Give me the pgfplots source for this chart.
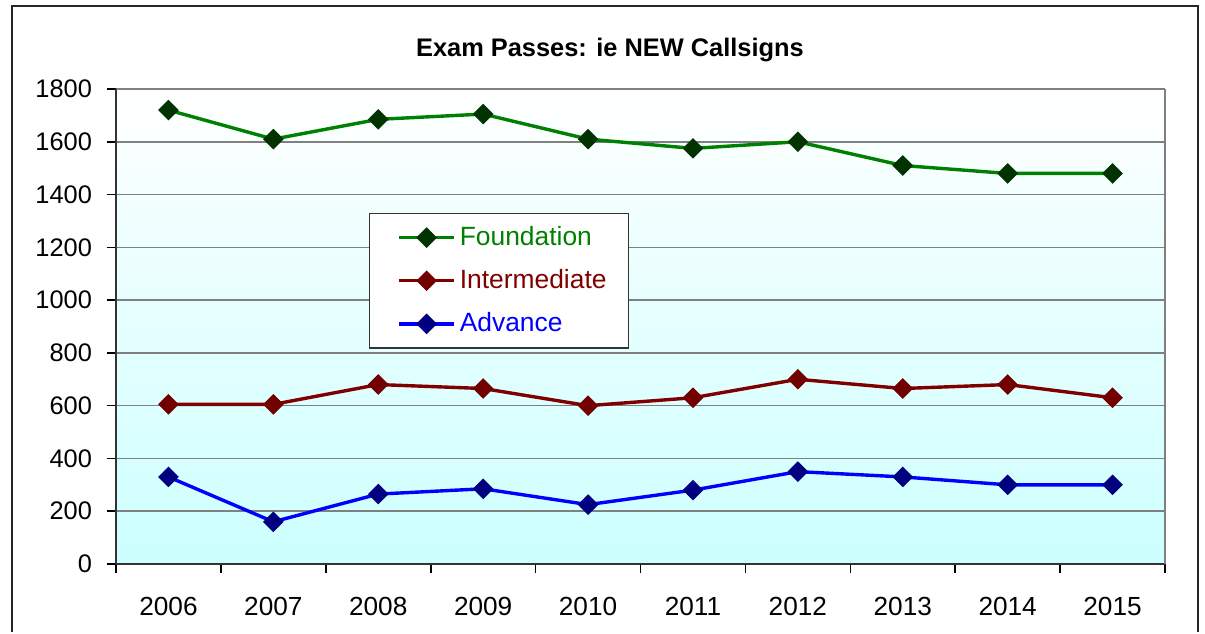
\documentclass[border=0pt]{standalone}
\usepackage{pgfplots}
\pgfplotsset{compat=1.18}
\usepackage{fontspec}
\setmainfont{Liberation Sans}
\definecolor{fgline}{RGB}{0,128,0}
\definecolor{fgmark}{RGB}{0,51,0}
\definecolor{imline}{RGB}{128,0,0}
\definecolor{immark}{RGB}{115,0,0}
\definecolor{adline}{RGB}{0,0,255}
\definecolor{admark}{RGB}{0,0,128}
\definecolor{bgcyan}{RGB}{204,255,255}
\definecolor{gridgray}{RGB}{128,128,128}
\pgfplotstableread{
x Foundation Intermediate Advance
0 1720 605 330
1 1610 605 160
2 1685 680 265
3 1705 665 285
4 1610 600 225
5 1575 630 280
6 1600 700 350
7 1510 665 330
8 1480 680 300
9 1480 630 300
}\examdata
\begin{document}
\begin{tikzpicture}
\begin{axis}[
  scale only axis, width=524.5pt, height=237.5pt,
  xmin=-0.5, xmax=9.5, ymin=0, ymax=1800,
  axis background/.style={shade, top color=white, bottom color=bgcyan},
  axis lines*=left,
  axis line style={line width=0.9pt, black!80},
  x axis line style={-}, y axis line style={-},
  tick align=outside,
  xtick={0,...,9}, xticklabels={2006,2007,2008,2009,2010,2011,2012,2013,2014,2015},
  major x tick style={draw=none},
  minor xtick={-0.5,0.5,...,9.5},
  minor tick length=4.5pt,
  minor x tick style={line width=0.8pt, black},
  ytick={0,200,...,1800},
  major tick length=4.5pt,
  y tick style={line width=0.8pt, black},
  ymajorgrids,
  major grid style={line width=0.8pt, gridgray},
  /pgf/number format/assume math mode=true,
  /pgf/number format/1000 sep={},
  yticklabel style={font=\fontsize{12.7}{14}\selectfont, xshift=-4pt},
  xticklabel style={font=\fontsize{13.1}{15}\selectfont, yshift=-8.5pt},
  legend style={at={(0.241,0.739)}, anchor=north west, draw=black!80, line width=0.6pt,
    fill=white, font=\fontsize{13.2}{15}\selectfont, inner xsep=9pt, inner ysep=4.5pt,
    row sep=6.5pt, cells={anchor=west}},
  legend image code/.code={\path (-5pt,0pt); \draw[#1, mark repeat=2, mark phase=2] plot coordinates {(0pt,0pt) (13.75pt,0pt) (27.5pt,0pt)};},
  every axis plot/.append style={line width=1.7pt},
  clip=false,
]
\path ([shift={(-58pt,-34pt)}]rel axis cs:0,0) rectangle ([shift={(544.5pt,282pt)}]rel axis cs:0,0);
\draw[line width=1pt, black!85] ([shift={(-52pt,-34pt)}]rel axis cs:0,0) -- ([shift={(-52pt,279pt)}]rel axis cs:0,0) -- ([shift={(541pt,279pt)}]rel axis cs:0,0) -- ([shift={(541pt,-34pt)}]rel axis cs:0,0);
\node[font=\fontsize{12.7}{14}\selectfont\bfseries] at ([shift={(247pt,257pt)}]rel axis cs:0,0) {Exam Passes: ie NEW Callsigns};
\addplot[fgline, mark=square*, mark size=3.4pt, mark options={fill=fgmark, draw=fgmark, rotate=45, solid, line width=0.5pt}] table[x=x, y=Foundation] {\examdata};
\addlegendentry{\textcolor{fgline}{Foundation}}
\addplot[imline, mark=square*, mark size=3.4pt, mark options={fill=immark, draw=immark, rotate=45, solid, line width=0.5pt}] table[x=x, y=Intermediate] {\examdata};
\addlegendentry{\textcolor{imline}{Intermediate}}
\addplot[adline, mark=square*, mark size=3.4pt, mark options={fill=admark, draw=admark, rotate=45, solid, line width=0.5pt}] table[x=x, y=Advance] {\examdata};
\addlegendentry{\textcolor{adline}{Advance}}
\draw[gridgray, line width=0.8pt] (rel axis cs:1,0) -- (rel axis cs:1,1);
\end{axis}
\end{tikzpicture}
\end{document}
